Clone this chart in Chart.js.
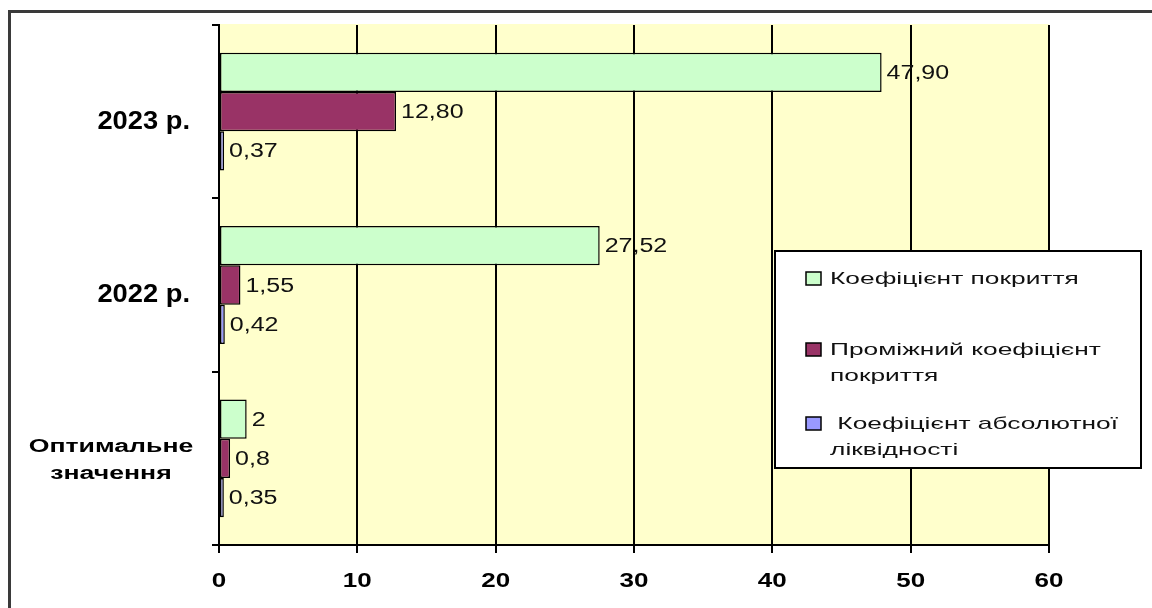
<!DOCTYPE html>
<html>
<head>
<meta charset="utf-8">
<script src="https://cdn.jsdelivr.net/npm/chart.js@4"></script>
<style>
  html, body { margin: 0; padding: 0; background: #ffffff; }
  #wrap { width: 1152px; height: 608px; position: relative; }
  canvas { display: block; }
</style>
</head>
<body>
<div id="wrap"><canvas id="chart" width="1152" height="608"></canvas></div>
<script>
// Liquidity ratios by year plus recommended values
const categories = [['2023 р.'], ['2022 р.'], ['Оптимальне', 'значення']];
const seriesNames = ['Коефіцієнт покриття', 'Проміжний коефіцієнт покриття', 'Коефіцієнт абсолютної ліквідності'];
const coverageRatio = [47.90, 27.52, 2];
const quickRatio = [12.80, 1.55, 0.8];
const absoluteLiquidity = [0.37, 0.42, 0.35];
const labelDecimals = [2, 2, null];
const xTickValues = [0, 10, 20, 30, 40, 50, 60];
const legendLines = [['Коефіцієнт покриття'], ['Проміжний коефіцієнт', 'покриття'], [' Коефіцієнт абсолютної', 'ліквідності']];
const seriesColors = ['#CCFFCC', '#993366', '#9999FF'];

const FONT = 'Arial, "Liberation Sans", sans-serif';

// draws text widened horizontally by factor sx
function wideText(ctx, text, x, y, font, sx, align, color) {
  ctx.save();
  ctx.font = font;
  ctx.textBaseline = 'middle';
  ctx.textAlign = 'left';
  ctx.fillStyle = color || '#000';
  const w = ctx.measureText(text).width * sx;
  const x0 = align === 'right' ? x - w : align === 'center' ? x - w / 2 : x;
  ctx.translate(x0, y);
  ctx.scale(sx, 1);
  ctx.fillText(text, 0, 0);
  ctx.restore();
}

function formatValue(v, decimals) {
  const s = decimals == null ? String(v) : v.toFixed(decimals);
  return s.replace('.', ',');
}

const framePlugin = {
  id: 'frame',
  beforeDraw(chart) {
    const { ctx, chartArea: a } = chart;
    ctx.save();
    ctx.fillStyle = '#FFFFCC';
    ctx.fillRect(a.left, a.top - 1, a.right - a.left, a.bottom - a.top + 1);
    ctx.strokeStyle = '#3a3a3a';
    ctx.lineWidth = 3;
    ctx.strokeRect(9.5, 11.5, 1200, 700);
    ctx.restore();
  },
  afterDatasetsDraw(chart) {
    const { ctx } = chart;
    chart.data.datasets.forEach((ds, di) => {
      const meta = chart.getDatasetMeta(di);
      meta.data.forEach((bar, i) => {
        const txt = formatValue(ds.data[i], labelDecimals[i]);
        wideText(ctx, txt, bar.x + 5, bar.y + 1, '20px ' + FONT, 1.25, 'left', '#111');
      });
    });
  },
  afterDraw(chart) {
    const { ctx } = chart;
    const xs = chart.scales.x, ys = chart.scales.y;
    // value axis labels
    xTickValues.forEach(v => {
      wideText(ctx, String(v), xs.getPixelForValue(v), 581, 'bold 20px ' + FONT, 1.3, 'center', '#000');
    });
    // category labels
    categories.forEach((lines, i) => {
      const cy = ys.getPixelForValue(i);
      if (lines.length === 1) {
        wideText(ctx, lines[0], 190, cy + 10, 'bold 26px ' + FONT, 1.05, 'right', '#000');
      } else {
        lines.forEach((ln, k) => {
          wideText(ctx, ln, 111, cy - 11 + k * 27, 'bold 18px ' + FONT, 1.48, 'center', '#000');
        });
      }
    });
    // legend box
    ctx.save();
    ctx.fillStyle = '#ffffff';
    ctx.fillRect(775, 251, 366, 217);
    ctx.strokeStyle = '#000';
    ctx.lineWidth = 2;
    ctx.strokeRect(775, 251, 366, 217);
    ctx.restore();
    const entryY = [279, 350, 424];
    legendLines.forEach((lines, i) => {
      const y = entryY[i];
      ctx.save();
      ctx.fillStyle = seriesColors[i];
      ctx.fillRect(806, y - 7, 15, 13);
      ctx.strokeStyle = '#000';
      ctx.lineWidth = 1.5;
      ctx.strokeRect(806, y - 7, 15, 13);
      ctx.restore();
      lines.forEach((ln, k) => {
        wideText(ctx, ln, 830, y + k * 26, '17px ' + FONT, 1.55, 'left', '#111');
      });
    });
  }
};

const datasets = [coverageRatio, quickRatio, absoluteLiquidity].map((vals, i) => ({
  label: seriesNames[i],
  data: vals,
  backgroundColor: seriesColors[i],
  borderColor: '#000',
  borderWidth: 1.5,
  borderSkipped: false,
  categoryPercentage: 0.68,
  barPercentage: 1.0
}));

new Chart(document.getElementById('chart'), {
  type: 'bar',
  data: { labels: categories, datasets },
  options: {
    indexAxis: 'y',
    responsive: false,
    animation: false,
    devicePixelRatio: 1,
    layout: { padding: { left: 219, right: 103, top: 25, bottom: 63 } },
    plugins: { legend: { display: false }, tooltip: { enabled: false } },
    scales: {
      x: {
        min: 0, max: 60,
        ticks: { stepSize: 10, display: false },
        grid: { color: '#000', lineWidth: 2, tickLength: 8, drawOnChartArea: true },
        border: { display: true, color: '#000', width: 2 },
        afterFit(s) { s.height = 0; }
      },
      y: {
        ticks: { display: false },
        grid: { color: '#000', lineWidth: 2, tickLength: 7, drawOnChartArea: false, offset: true },
        border: { display: true, color: '#000', width: 2 },
        afterFit(s) { s.width = 0; }
      }
    }
  },
  plugins: [framePlugin]
});
</script>
</body>
</html>
